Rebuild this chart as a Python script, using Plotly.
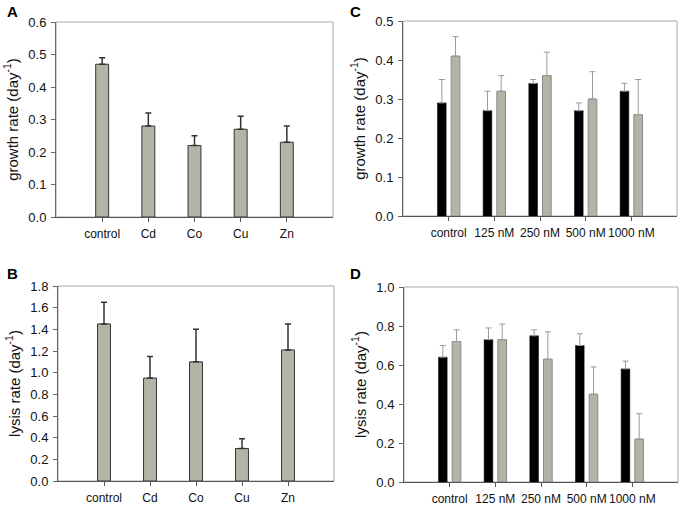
import plotly.graph_objects as go

metals = ["control", "Cd", "Co", "Cu", "Zn"]
conc = ["control", "125 nM", "250 nM", "500 nM", "1000 nM"]

growth_metal = [0.47, 0.28, 0.22, 0.27, 0.23]
growth_metal_err = [0.02, 0.04, 0.03, 0.04, 0.05]

lysis_metal = [1.45, 0.95, 1.10, 0.30, 1.21]
lysis_metal_err = [0.20, 0.20, 0.30, 0.09, 0.24]

growth_conc_black = [0.29, 0.27, 0.34, 0.27, 0.32]
growth_conc_black_err = [0.06, 0.05, 0.01, 0.02, 0.02]
growth_conc_gray = [0.41, 0.32, 0.36, 0.30, 0.26]
growth_conc_gray_err = [0.05, 0.04, 0.06, 0.07, 0.09]

lysis_conc_black = [0.64, 0.73, 0.75, 0.70, 0.58]
lysis_conc_black_err = [0.06, 0.06, 0.03, 0.06, 0.04]
lysis_conc_gray = [0.72, 0.73, 0.63, 0.45, 0.22]
lysis_conc_gray_err = [0.06, 0.08, 0.14, 0.14, 0.13]

GRAY = "#b4b4a6"
FONT = "Liberation Sans, Arial, sans-serif"

fig = go.Figure()


def err(vals, color, thick):
    return dict(type="data", array=vals, arrayminus=[0] * len(vals), symmetric=False,
                color=color, thickness=thick, width=3)


# Panel A
fig.add_trace(go.Bar(x=metals, y=growth_metal, width=0.28, marker=dict(color=GRAY, line=dict(color="#333333", width=1)),
                     error_y=err(growth_metal_err, "#333333", 1.5), xaxis="x", yaxis="y", showlegend=False))
# Panel B
fig.add_trace(go.Bar(x=metals, y=lysis_metal, width=0.28, marker=dict(color=GRAY, line=dict(color="#333333", width=1)),
                     error_y=err(lysis_metal_err, "#333333", 1.5), xaxis="x3", yaxis="y3", showlegend=False))
# Panel C
fig.add_trace(go.Bar(x=conc, y=growth_conc_black, width=0.19, offset=-0.245, marker=dict(color="black", line=dict(color="black", width=0.5)),
                     error_y=err(growth_conc_black_err, "#9a9a9a", 1), xaxis="x2", yaxis="y2", showlegend=False))
fig.add_trace(go.Bar(x=conc, y=growth_conc_gray, width=0.19, offset=0.055, marker=dict(color=GRAY, line=dict(color="#8a8a8a", width=1)),
                     error_y=err(growth_conc_gray_err, "#9a9a9a", 1), xaxis="x2", yaxis="y2", showlegend=False))
# Panel D
fig.add_trace(go.Bar(x=conc, y=lysis_conc_black, width=0.19, offset=-0.245, marker=dict(color="black", line=dict(color="black", width=0.5)),
                     error_y=err(lysis_conc_black_err, "#9a9a9a", 1), xaxis="x4", yaxis="y4", showlegend=False))
fig.add_trace(go.Bar(x=conc, y=lysis_conc_gray, width=0.19, offset=0.055, marker=dict(color=GRAY, line=dict(color="#8a8a8a", width=1)),
                     error_y=err(lysis_conc_gray_err, "#9a9a9a", 1), xaxis="x4", yaxis="y4", showlegend=False))

W, H = 688, 506


def xd(a, b):
    return [a / W, b / W]


def yd(top, bot):
    return [1 - bot / H, 1 - top / H]


def xax(dom, anchor):
    return dict(domain=dom, anchor=anchor, type="category", range=[-1, 5], showline=True,
                linecolor="#555555", linewidth=1, ticks="outside", ticklen=4, tickcolor="#555555",
                showgrid=False, zeroline=False, tickangle=0, ticklabelstandoff=2, automargin=False,
                tickfont=dict(size=12, color="#111111", family=FONT))


def yax(dom, anchor, rng, dt, title):
    return dict(domain=dom, anchor=anchor, range=rng, dtick=dt, tick0=0, tickformat=".1f",
                showline=True, linecolor="#666666", linewidth=1, ticks="outside", ticklen=4,
                tickcolor="#666666", showgrid=False, zeroline=False, ticklabelstandoff=2, automargin=False,
                tickfont=dict(size=13, color="#111111", family=FONT),
                title=dict(text=title, font=dict(size=15, color="#111111", family=FONT), standoff=6))


gt = "growth rate (day<sup>-1</sup>)"
lt = "lysis rate (day<sup>-1</sup>)"

fig.update_layout(
    width=W, height=H, margin=dict(l=0, r=0, t=0, b=0, autoexpand=False),
    paper_bgcolor="white", plot_bgcolor="white", barmode="overlay",
    font=dict(family=FONT, color="#111111"),
    xaxis=xax(xd(56, 333), "y"), yaxis=yax(yd(22, 217), "x", [0, 0.6], 0.1, gt),
    xaxis2=xax(xd(403, 677), "y2"), yaxis2=yax(yd(21, 216), "x2", [0, 0.5], 0.1, gt),
    xaxis3=xax(xd(58, 334), "y3"), yaxis3=yax(yd(286, 481), "x3", [0, 1.8], 0.2, lt),
    xaxis4=xax(xd(404, 678), "y4"), yaxis4=yax(yd(287, 482), "x4", [0, 1.0], 0.2, lt),
)

# light frame (top/right) around each plot area
for xr, yr in [("x", "y"), ("x2", "y2"), ("x3", "y3"), ("x4", "y4")]:
    fig.add_shape(type="rect", xref=f"{xr} domain", yref=f"{yr} domain", x0=0, x1=1, y0=0, y1=1,
                  line=dict(color="#a8a8a8", width=1), layer="below")

for letter, x, y in [("A", 12, 12), ("C", 355, 12), ("B", 12, 273), ("D", 355, 273)]:
    fig.add_annotation(text=f"<b>{letter}</b>", x=x / W, y=1 - y / H, xref="paper", yref="paper",
                       showarrow=False, xanchor="center", yanchor="middle",
                       font=dict(size=15, family=FONT, color="black"))

fig.write_html("out.html", config={"displayModeBar": False},
               post_script="document.body.style.margin='0';document.body.style.overflow='hidden';")
